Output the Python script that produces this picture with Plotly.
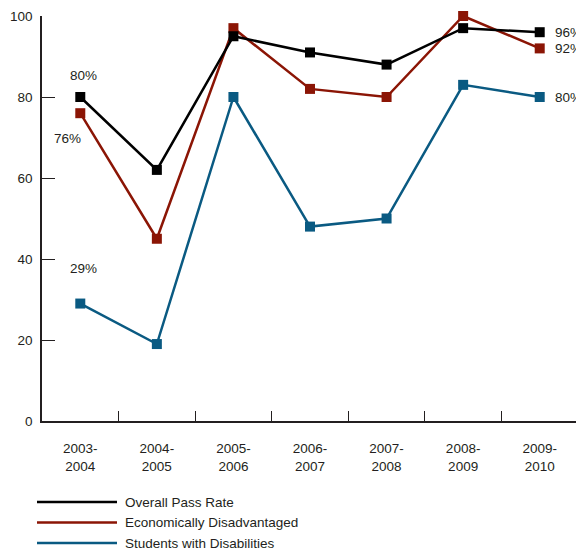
import plotly.graph_objects as go

years = ["2003-<br>2004", "2004-<br>2005", "2005-<br>2006", "2006-<br>2007",
         "2007-<br>2008", "2008-<br>2009", "2009-<br>2010"]
overall = [80, 62, 95, 91, 88, 97, 96]
econ = [76, 45, 97, 82, 80, 100, 92]
swd = [29, 19, 80, 48, 50, 83, 80]
names = ["Overall Pass Rate", "Economically Disadvantaged", "Students with Disabilities"]
colors = ["#000000", "#8B1505", "#0A5A82"]

FONT = "Liberation Sans, Arial, sans-serif"
FS = 13.5
TXT = "#231F20"
fig = go.Figure()
series = [overall, econ, swd]
for idx in [2, 1, 0]:
    fig.add_trace(go.Scatter(
        x=years, y=series[idx], mode="lines+markers", name=names[idx],
        line=dict(color=colors[idx], width=2.5),
        marker=dict(symbol="square", size=10, color=colors[idx]),
        showlegend=False, cliponaxis=False))

ann = []
ann.append(dict(x=years[0], y=overall[0], text=f"{overall[0]}%", showarrow=False,
                xshift=3, yshift=22, font=dict(size=FS, color=TXT)))
ann.append(dict(x=years[0], y=econ[0], text=f"{econ[0]}%", showarrow=False,
                xshift=-13, yshift=-25, font=dict(size=FS, color=TXT)))
ann.append(dict(x=years[0], y=swd[0], text=f"{swd[0]}%", showarrow=False,
                xshift=3, yshift=35, font=dict(size=FS, color=TXT)))
for s in series:
    ann.append(dict(x=years[-1], y=s[-1], text=f"{s[-1]}%", showarrow=False,
                    xanchor="left", xshift=13, font=dict(size=FS, color=TXT)))

# page has an 8px body margin: figure is 576x542, placed at (8, 8)
H = 405.0
W = 536.0
shapes = []
for i, (n, c) in enumerate(zip(names, colors)):
    ypx = 502 + i * 20.5
    yp = (421 - ypx) / H
    shapes.append(dict(type="line", xref="paper", yref="paper",
                       x0=(37 - 42) / W, x1=(117 - 42) / W, y0=yp, y1=yp,
                       line=dict(color=c, width=2.5)))
    ann.append(dict(xref="paper", yref="paper", x=(123 - 42) / W, y=yp, text=n,
                    showarrow=False, xanchor="left", yanchor="middle",
                    font=dict(size=FS, color=TXT)))

fig.update_layout(
    width=576, height=542,
    margin=dict(l=34, r=6, t=8, b=129, autoexpand=False),
    plot_bgcolor="white", paper_bgcolor="white",
    font=dict(family=FONT, size=FS, color=TXT),
    annotations=ann, shapes=shapes,
    xaxis=dict(type="category", tickson="boundaries", ticks="inside", ticklen=10,
               tickcolor=TXT, tickwidth=1.3, showline=True, linecolor=TXT,
               linewidth=1.5, showgrid=False, zeroline=False, automargin=False,
               ticklabelstandoff=14, tickfont=dict(size=FS, color=TXT),
               range=[-0.5, 6.5]),
    yaxis=dict(range=[0, 100], tickvals=[0, 20, 40, 60, 80, 100], ticks="inside",
               ticklen=13, tickcolor=TXT, tickwidth=1.3, showline=True,
               linecolor=TXT, linewidth=1.5, showgrid=False, zeroline=False,
               automargin=False, ticklabelstandoff=5,
               tickfont=dict(size=FS, color=TXT)),
)
fig.write_html("out.html")
